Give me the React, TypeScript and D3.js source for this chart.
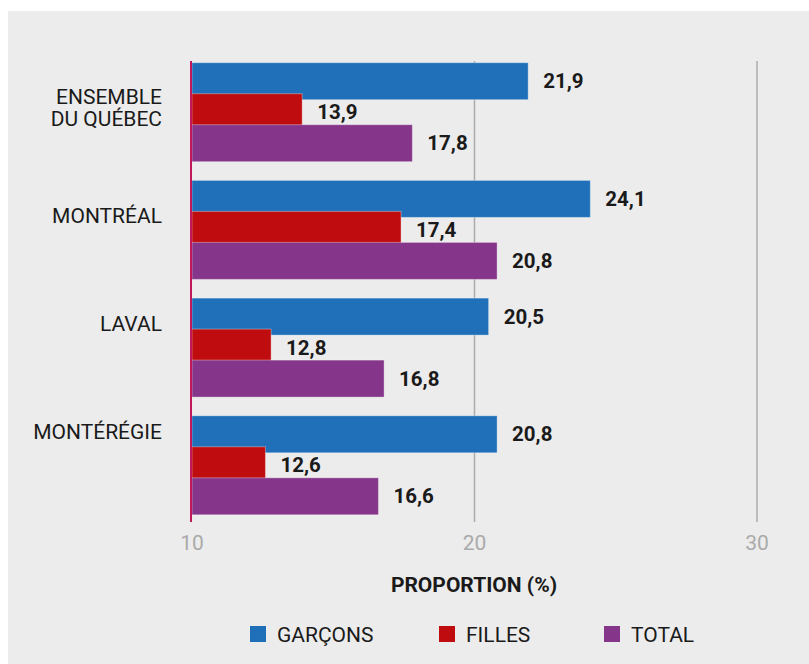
import React from "react";
import * as d3 from "d3";

const regions = ["ENSEMBLE|DU QUÉBEC", "MONTRÉAL", "LAVAL", "MONTÉRÉGIE"];
const seriesNames = ["GARÇONS", "FILLES", "TOTAL"];
const garcons = [21.9, 24.1, 20.5, 20.8];
const filles = [13.9, 17.4, 12.8, 12.6];
const total = [17.8, 20.8, 16.8, 16.6];
const xTicks = [10, 20, 30];
const colors = ["#1f70b9", "#bf0d0f", "#85368a"];

const W = 809;
const H = 664;
const FONT = "Roboto, 'Noto Sans', sans-serif";

export default function App() {
  const series = [garcons, filles, total];
  const x = d3.scaleLinear().domain([10, 30]).range([192, 757]);
  const y = d3.scaleBand<number>().domain(d3.range(regions.length)).range([62.7, 533.5]).paddingInner(0).paddingOuter(0);
  const inner = d3.scaleBand<number>().domain(d3.range(3)).range([0, 93]).padding(0);
  const labelY = d3.scalePoint<number>().domain(d3.range(regions.length)).range([107.5, 432]);
  const barH = 37;
  const fmt = (v: number) => d3.format(".1f")(v).replace(".", ",");

  return (
    <svg width={W} height={H} style={{ position: "absolute", left: 0, top: 0 }} fontFamily={FONT}>
      <rect x={0} y={0} width={W} height={H} fill="#ffffff" />
      <rect x={8} y={11} width={W - 8} height={H - 11} fill="#ececec" />
      {xTicks.slice(1).map((t) => (
        <line key={t} x1={x(t)} x2={x(t)} y1={61} y2={522} stroke="#acacac" strokeWidth={1.5} />
      ))}
      {regions.map((r, i) =>
        series.map((s, j) => {
          const y0 = (y(i) as number) + (inner(j) as number);
          return (
            <rect key={`${i}-${j}`} x={x(10)} y={y0} width={x(s[i]) - x(10)} height={barH} fill={colors[j]} stroke="#ffffff" strokeOpacity={0.35} strokeWidth={1} />
          );
        })
      )}
      {regions.map((r, i) =>
        series.map((s, j) => {
          const y0 = (y(i) as number) + (inner(j) as number);
          return (
            <text key={`l${i}-${j}`} x={x(s[i]) + 15} y={y0 + barH / 2} dy="0.35em" fontSize={20.5} fontWeight={700} fill="#1a1a1a">
              {fmt(s[i])}
            </text>
          );
        })
      )}
      <line x1={191} x2={191} y1={61} y2={522} stroke="#c2185b" strokeWidth={2} />
      {regions.map((r, i) => {
        const lines = r.split("|");
        const cy = labelY(i) as number;
        return (
          <text key={`c${i}`} x={162} y={cy} textAnchor="end" fontSize={21} fill="#1a1a1a">
            {lines.map((ln, k) => (
              <tspan key={k} x={162} dy={k === 0 ? `${(-(lines.length - 1) * 1.05) / 2 + 0.35}em` : "1.05em"}>
                {ln}
              </tspan>
            ))}
          </text>
        );
      })}
      {xTicks.map((t) => (
        <text key={`t${t}`} x={x(t)} y={550} textAnchor="middle" fontSize={21} fill="#aaaaaa">
          {t}
        </text>
      ))}
      <text x={474} y={592} textAnchor="middle" fontSize={21} fontWeight={700} fill="#1a1a1a">
        PROPORTION (%)
      </text>
      {seriesNames.map((n, j) => {
        const lx = [250, 439, 604][j];
        return (
          <g key={n}>
            <rect x={lx} y={626} width={16} height={16} fill={colors[j]} />
            <text x={lx + 27} y={642} fontSize={21} fill="#1a1a1a">
              {n}
            </text>
          </g>
        );
      })}
    </svg>
  );
}
